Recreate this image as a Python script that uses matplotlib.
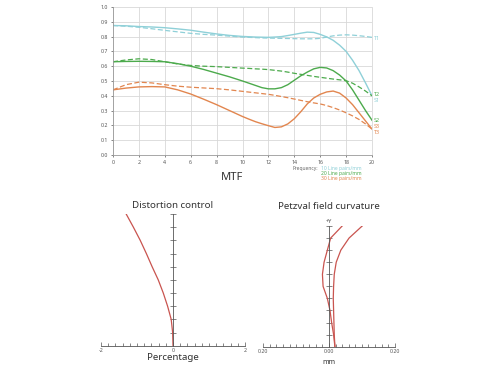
import numpy as np
import matplotlib
matplotlib.use("Agg")
import matplotlib.pyplot as plt
from matplotlib.ticker import MultipleLocator

plt.rcParams['font.family'] = ['Noto Sans', 'DejaVu Sans']

freq = [0, 1, 2, 3, 4, 5, 6, 7, 8, 9, 10, 10.5, 11, 11.5, 12, 12.5, 13, 13.5, 14, 14.5,
        15, 15.5, 16, 16.5, 17, 17.5, 18, 18.5, 19, 19.5, 20]
s1 = [0.875, 0.873, 0.868, 0.865, 0.860, 0.852, 0.843, 0.830, 0.818, 0.808, 0.801,
      0.799, 0.797, 0.796, 0.795, 0.797, 0.800, 0.807, 0.815, 0.823, 0.830, 0.828,
      0.815, 0.798, 0.775, 0.742, 0.700, 0.640, 0.570, 0.487, 0.400]
t1 = [0.875, 0.870, 0.863, 0.853, 0.842, 0.832, 0.822, 0.815, 0.810, 0.803, 0.797,
      0.795, 0.793, 0.791, 0.790, 0.789, 0.788, 0.787, 0.786, 0.785, 0.785, 0.785,
      0.788, 0.797, 0.805, 0.810, 0.812, 0.810, 0.806, 0.801, 0.795]
s2 = [0.630, 0.632, 0.633, 0.632, 0.630, 0.617, 0.600, 0.578, 0.553, 0.528, 0.500,
      0.485, 0.470, 0.455, 0.447, 0.447, 0.455, 0.475, 0.505, 0.535, 0.560, 0.582,
      0.592, 0.588, 0.570, 0.540, 0.500, 0.440, 0.370, 0.300, 0.235]
t2 = [0.630, 0.642, 0.650, 0.645, 0.630, 0.615, 0.605, 0.600, 0.597, 0.592, 0.587,
      0.585, 0.582, 0.580, 0.577, 0.572, 0.567, 0.560, 0.552, 0.545, 0.538, 0.531,
      0.525, 0.519, 0.513, 0.508, 0.502, 0.485, 0.460, 0.432, 0.400]
s3 = [0.440, 0.452, 0.460, 0.462, 0.460, 0.440, 0.412, 0.377, 0.340, 0.300, 0.260,
      0.242, 0.225, 0.211, 0.198, 0.186, 0.190, 0.210, 0.245, 0.292, 0.345, 0.385,
      0.410, 0.426, 0.432, 0.418, 0.385, 0.340, 0.285, 0.230, 0.175]
t3 = [0.440, 0.475, 0.492, 0.487, 0.475, 0.465, 0.458, 0.453, 0.448, 0.440, 0.430,
      0.425, 0.420, 0.415, 0.410, 0.403, 0.395, 0.387, 0.378, 0.369, 0.360, 0.352,
      0.345, 0.334, 0.320, 0.304, 0.285, 0.264, 0.240, 0.210, 0.175]

end_labels = ['T1', 'T2', 'S1', 'S2', 'S3', 'T3']
end_label_y = [0.79, 0.41, 0.365, 0.235, 0.195, 0.15]
freq_labels = ['10 Line pairs/mm', '20 Line pairs/mm', '30 Line pairs/mm']

# distortion (field height vs percentage)
field = [0.0, 0.1, 0.2, 0.3, 0.4, 0.5, 0.6, 0.7, 0.8, 0.9, 1.0]
distortion = [0.0, -0.01, -0.05, -0.15, -0.27, -0.41, -0.58, -0.74, -0.91, -1.10, -1.30]

# petzval field curvature (mm)
petz_s = [0.018, 0.014, 0.008, 0.003, -0.005, -0.018, -0.020, -0.015, -0.005, 0.005, 0.040]
petz_t = [0.018, 0.016, 0.015, 0.014, 0.013, 0.014, 0.016, 0.022, 0.036, 0.061, 0.101]

cyan = '#8fd0d8'
green = '#4caa4c'
orange = '#e2864f'
red = '#c9544f'
colors = [cyan, green, orange]
label_colors = [cyan, green, cyan, green, orange, orange]

fig = plt.figure(figsize=(5, 3.74), dpi=100)

# ---- MTF ----
ax = fig.add_axes([0.226, 0.5856, 0.518, 0.3957])
for c, s, t in zip(colors, [s1, s2, s3], [t1, t2, t3]):
    ax.plot(freq, s, color=c, lw=1.0, solid_joinstyle='round')
    ax.plot(freq, t, color=c, lw=0.9, ls=(0, (4, 2)))
ax.set_xlim(0, 20)
ax.set_ylim(0, 1.0)
ax.xaxis.set_major_locator(MultipleLocator(2))
ax.yaxis.set_major_locator(MultipleLocator(0.1))
ax.yaxis.set_major_formatter(matplotlib.ticker.FormatStrFormatter('%.1f'))
ax.grid(True, color='#d8d8d8', lw=0.6)
ax.tick_params(labelsize=3.8, length=1.5, width=0.5, colors='#555555', pad=2)
for sp in ax.spines.values():
    sp.set_color('#999999')
    sp.set_linewidth(0.6)
ax.spines['top'].set_visible(False)
ax.spines['right'].set_color('#d8d8d8')
for lab, y, c in zip(end_labels, end_label_y, label_colors):
    ax.text(20.15, y, lab, color=c, fontsize=3.9, va='center', ha='left')
fig.text(0.464, 0.526, 'MTF', fontsize=8, ha='center', va='center', color='#333333')
fig.text(0.637, 0.549, 'Frequency:', fontsize=3.6, ha='right', va='center', color='#666666')
for i, (lab, c) in enumerate(zip(freq_labels, colors)):
    fig.text(0.642, 0.549 - i * 0.0135, lab, fontsize=3.6, ha='left', va='center', color=c)

# ---- Distortion ----
ax2 = fig.add_axes([0.202, 0.0757, 0.288, 0.352])
ax2.plot(distortion, field, color=red, lw=0.9)
ax2.set_xlim(-2, 2)
ax2.set_ylim(0, 1.0)
ax2.spines['left'].set_position(('data', 0))
ax2.spines['right'].set_visible(False)
ax2.spines['top'].set_visible(False)
for sp in ['left', 'bottom']:
    ax2.spines[sp].set_color('#555555')
    ax2.spines[sp].set_linewidth(0.6)
ax2.set_yticks(np.arange(0.1, 1.01, 0.1))
ax2.yaxis.set_tick_params(direction='inout', length=4, width=0.5, color='#555555', labelleft=False)
ax2.set_xticks([-2, 0, 2])
ax2.set_xticklabels(['-2', '0', '2'])
ax2.xaxis.set_minor_locator(MultipleLocator(0.2))
ax2.tick_params(axis='x', which='major', direction='in', length=3, width=0.5,
                color='#555555', labelsize=3.8, labelcolor='#555555', pad=2)
ax2.tick_params(axis='x', which='minor', direction='in', length=2, width=0.5, color='#555555')
ax2.set_title('Distortion control', fontsize=7, color='#333333', pad=4)
ax2.set_xlabel('Percentage', fontsize=7, color='#333333', labelpad=0)

# ---- Petzval ----
ax3 = fig.add_axes([0.5266, 0.073, 0.2628, 0.3227])
ax3.plot(petz_s, field, color=red, lw=0.9)
ax3.plot(petz_t, field, color=red, lw=0.9)
ax3.set_xlim(-0.2, 0.2)
ax3.set_ylim(0, 1.0)
ax3.spines['left'].set_position(('data', 0))
ax3.spines['right'].set_visible(False)
ax3.spines['top'].set_visible(False)
for sp in ['left', 'bottom']:
    ax3.spines[sp].set_color('#555555')
    ax3.spines[sp].set_linewidth(0.6)
ax3.set_yticks(np.arange(0.1, 1.01, 0.1))
ax3.yaxis.set_tick_params(direction='inout', length=4, width=0.5, color='#555555', labelleft=False)
ax3.set_xticks([-0.2, 0, 0.2])
ax3.set_xticklabels(['0.20', '0.00', '0.20'])
ax3.xaxis.set_minor_locator(MultipleLocator(0.02))
ax3.tick_params(axis='x', which='major', direction='in', length=3, width=0.5,
                color='#555555', labelsize=3.8, labelcolor='#555555', pad=2)
ax3.tick_params(axis='x', which='minor', direction='in', length=2, width=0.5, color='#555555')
ax3.text(0, 1.015, '+Y', fontsize=4, ha='center', va='bottom', color='#444444')
ax3.set_title('Petzval field curvature', fontsize=7, color='#333333', pad=12)
ax3.set_xlabel('mm', fontsize=5, color='#333333', labelpad=3)

fig.savefig('out.png', dpi=100)
